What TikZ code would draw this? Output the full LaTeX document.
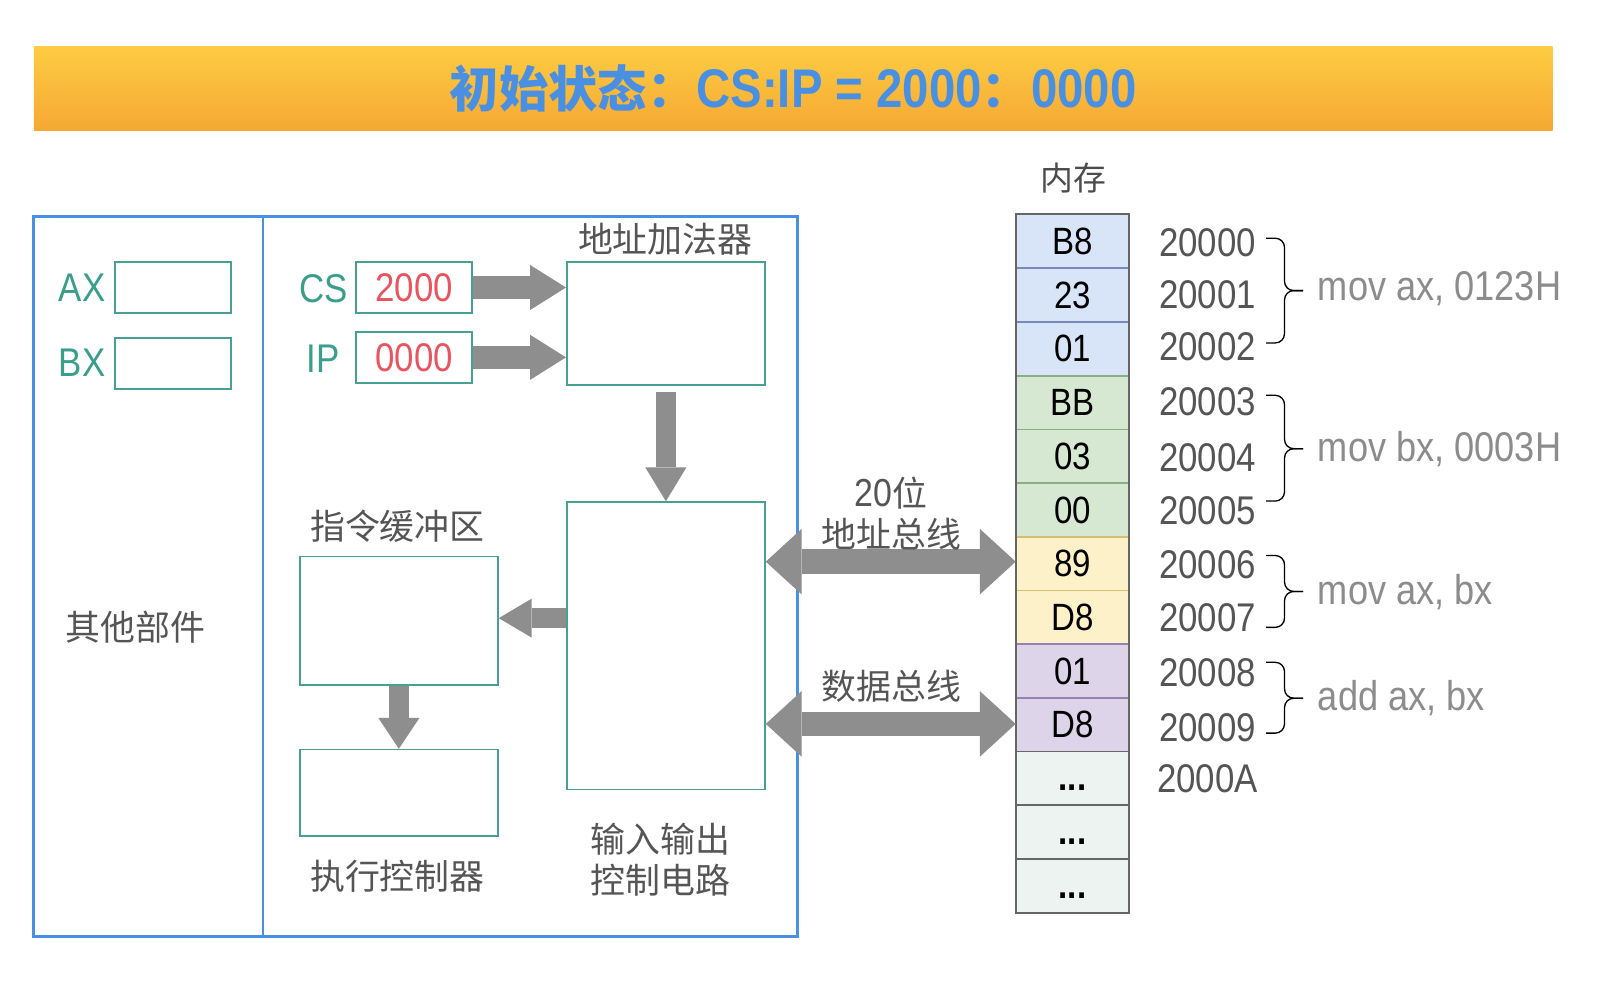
\documentclass[tikz,border=0pt]{standalone}
\usepackage{fontspec}
\setmainfont{Liberation Sans}[FakeStretch=0.87]
\newfontfamily\cjk{Noto Sans CJK SC}
\usetikzlibrary{arrows.meta}
\newcommand\mydots{\smash{\raisebox{-12pt}{\bfseries...}}}
\definecolor{titletop}{RGB}{253,204,66}
\definecolor{titlebot}{RGB}{246,168,52}
\definecolor{titleblue}{RGB}{74,144,226}
\definecolor{cpublue}{RGB}{74,144,226}
\definecolor{teal}{RGB}{70,160,148}
\definecolor{tealtext}{RGB}{58,158,140}
\definecolor{numred}{RGB}{232,84,96}
\definecolor{arrowgray}{RGB}{142,142,142}
\definecolor{txtgray}{RGB}{85,85,85}
\definecolor{instrgray}{RGB}{140,140,140}
\definecolor{memblue}{RGB}{216,228,247}
\definecolor{memblueb}{RGB}{122,138,184}
\definecolor{memgreen}{RGB}{215,232,210}
\definecolor{memgreenb}{RGB}{140,174,134}
\definecolor{memyellow}{RGB}{253,241,202}
\definecolor{memyellowb}{RGB}{214,190,110}
\definecolor{mempurple}{RGB}{222,212,234}
\definecolor{mempurpleb}{RGB}{150,128,180}
\definecolor{memgray}{RGB}{236,243,241}
\definecolor{memgrayb}{RGB}{102,102,102}
\begin{document}
\begin{tikzpicture}[x=1pt,y=-1pt,
  lat/.style={font=\fontsize{39}{44}\selectfont},
  cn/.style={font=\cjk\fontsize{34}{40}\selectfont, text=txtgray},
  reglabel/.style={lat, text=tealtext},
  regbox/.style={draw=teal, line width=2pt, fill=white, inner sep=0pt, minimum width=113pt, minimum height=50pt},
  unitbox/.style={draw=teal, line width=1.6pt, fill=white, inner sep=0pt, minimum width=193pt},
  blockarrow/.style={draw=arrowgray, line width=#1},
  memcell/.style={line width=1.6pt, inner sep=0pt, minimum width=109pt, minimum height=52.3pt, font=\fontsize{37}{40}\selectfont, text=black},
  addr/.style={lat, text=txtgray},
  instr/.style={font=\fontsize{40.5}{44}\selectfont, text=instrgray, anchor=west},
  bracepath/.style={draw=black, line width=1.3pt, rounded corners=9pt}
]
\useasboundingbox[fill=white] (0,0) rectangle (1568,972);

% title bar
\node[minimum width=1479pt, minimum height=82pt, inner sep=0pt, top color=titletop, bottom color=titlebot, draw=none,
      font=\bfseries\fontsize{53}{56}\selectfont, text=titleblue] (title) at (772.5,86)
  {{\cjk\fontsize{48}{50}\selectfont 初始状态：}CS:IP = 2000{\cjk\fontsize{48}{50}\selectfont ：}0000};

% CPU frame
\node[draw=cpublue, line width=3pt, minimum width=744pt, minimum height=701pt, inner sep=0pt] (cpu) at (405,561.5) {};
\coordinate (divtop) at (256,211);
\coordinate (divbot) at (256,912);
\draw[cpublue, line width=1.6pt] (divtop) -- (divbot);

% registers
\node[regbox] (ax) at (168.5,280) {};
\node[regbox] (bx) at (168.5,354) {};
\node[reglabel] (axl) at (80,280) {AX};
\node[reglabel] (bxl) at (80,353) {BX};
\node[cn] (other) at (132,611) {其他部件};

\node[regbox, lat, text=numred] (cs) at (403.5,280) {2000};
\node[regbox, lat, text=numred] (ip) at (403.5,348) {0000};
\node[reglabel] (csl) at (315,281) {CS};
\node[reglabel] (ipl) at (315,349) {IP};

% units
\node[unitbox, minimum height=120pt] (adder) at (648.5,315) {};
\node[cn] (adderl) at (648,233) {地址加法器};
\node[unitbox, minimum height=280pt] (io) at (648.5,629) {};
\node[cn, align=center] (iol) at (643,837) {输入输出\\控制电路};
\node[unitbox, minimum height=125pt] (buf) at (388.5,604.5) {};
\node[cn] (bufl) at (387,513) {指令缓冲区};
\node[unitbox, minimum height=84pt] (exec) at (388.5,772) {};
\node[cn] (execl) at (387,853) {执行控制器};

% block arrows
\draw[blockarrow=22pt, -{Triangle[length=35pt,width=44pt,line width=0pt]}] (cs.east) -- (adder.west |- cs.east);
\draw[blockarrow=22pt, -{Triangle[length=35pt,width=44pt,line width=0pt]}] (ip.east) -- (adder.west |- ip.east);
\coordinate (addbot) at ([yshift=-6pt]adder.south);
\draw[blockarrow=20pt, -{Triangle[length=33pt,width=40pt,line width=0pt]}] (addbot) -- (io.north);
\draw[blockarrow=20pt, -{Triangle[length=32pt,width=38pt,line width=0pt]}] (io.west |- 0,602) -- (buf.east |- 0,602);
\draw[blockarrow=20pt, -{Triangle[length=30pt,width=40pt,line width=0pt]}] (buf.south) -- (exec.north);

% memory
\node[font=\cjk\fontsize{32}{36}\selectfont, text=txtgray!90!black] (memt) at (1045,173) {内存};
\foreach \v/\fc/\dc [count=\i] in {B8/memblue/memblueb, 23/memblue/memblueb, 01/memblue/memblueb,
    BB/memgreen/memgreenb, 03/memgreen/memgreenb, 00/memgreen/memgreenb,
    89/memyellow/memyellowb, D8/memyellow/memyellowb,
    01/mempurple/mempurpleb, D8/mempurple/mempurpleb,
    \mydots/memgray/memgrayb, \mydots/memgray/memgrayb, \mydots/memgray/memgrayb} {
  \pgfmathsetmacro{\yy}{209+52.3*(\i-0.5)}
  \node[memcell, fill=\fc, draw=\dc] (m\i) at (1044.5,\yy) {\v};
}
\draw[memgrayb, line width=1.6pt] (m1.north west) rectangle (m13.south east);

% buses
\draw[blockarrow=24pt, {Triangle[length=35pt,width=64pt,line width=0pt]}-{Triangle[length=35pt,width=64pt,line width=0pt]}] (io.east |- 0,547) -- (m1.west |- 0,547);
\draw[blockarrow=24pt, {Triangle[length=35pt,width=64pt,line width=0pt]}-{Triangle[length=35pt,width=64pt,line width=0pt]}] (io.east |- 0,705) -- (m1.west |- 0,705);
\node[cn, align=center] (abus) at (868,500) {{\rmfamily\fontsize{38}{40}\selectfont 20}位\\地址总线};
\node[cn] (dbus) at (868,668) {数据总线};

% addresses
\foreach \t/\yy [count=\i] in {20000/236, 20001/287, 20002/338, 20003/391, 20004/446, 20005/497,
    20006/550, 20007/602, 20008/655, 20009/709, 2000A/758} {
  \node[addr] (a\i) at (1176,\yy) {\t};
}

% braces
\foreach \top/\mid/\bot in {232/283/334, 385/437/488, 541/576/611, 645/680/714} {
  \draw[bracepath] (1233,\top) -- (1251,\top) -- (1251,\mid) -- (1269,\mid);
  \draw[bracepath] (1233,\bot) -- (1251,\bot) -- (1251,\mid) -- (1269,\mid);
}

% instructions
\node[instr] (i1) at (1280,281) {mov ax, 0123H};
\node[instr] (i2) at (1280,437) {mov bx, 0003H};
\node[instr] (i3) at (1280,577) {mov ax, bx};
\node[instr] (i4) at (1280,680) {add ax, bx};
\end{tikzpicture}
\end{document}
